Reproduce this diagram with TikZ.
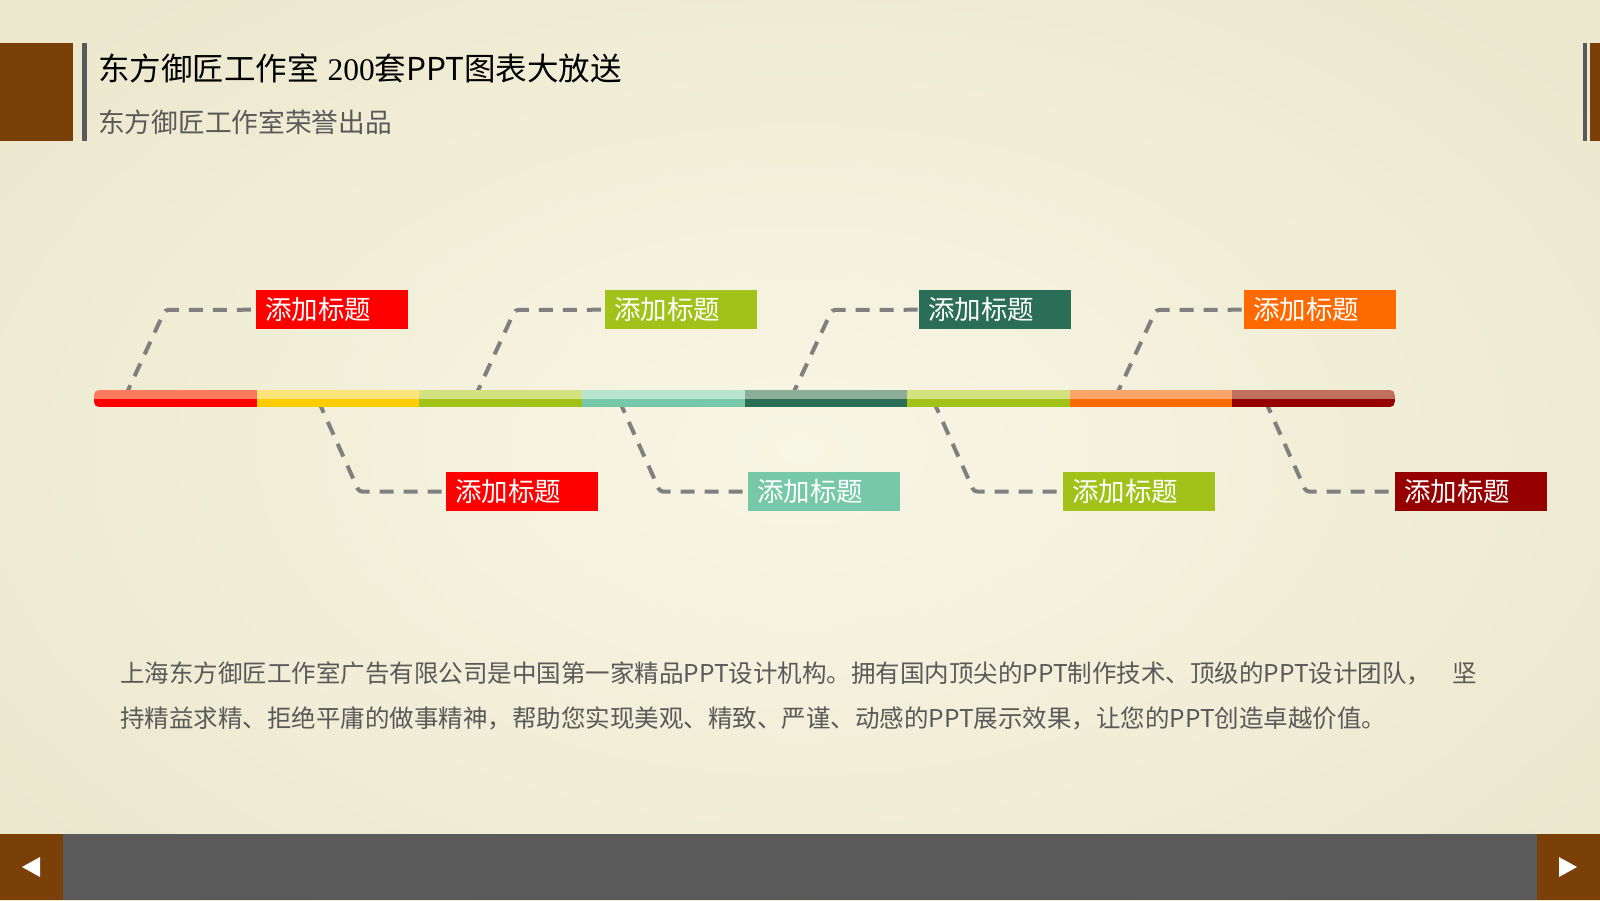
\documentclass[tikz,border=0pt]{standalone}
\usepackage{fontspec}
\setmainfont{Liberation Serif}
\newfontfamily\cjk{Noto Sans CJK SC}
\usetikzlibrary{calc}
\definecolor{bgin}{HTML}{F8F6E4}
\definecolor{bgout}{HTML}{ECE8CE}
\definecolor{brownc}{HTML}{7B3F08}
\definecolor{greyc}{HTML}{5A5A5A}
\definecolor{txtgrey}{HTML}{595959}
\definecolor{connc}{HTML}{808080}
\definecolor{redD}{HTML}{FF0000}\definecolor{redL}{HTML}{FF7A5C}
\definecolor{yelD}{HTML}{FFCC00}\definecolor{yelL}{HTML}{FCE47A}
\definecolor{grnD}{HTML}{A2C21A}\definecolor{grnL}{HTML}{D2E27E}
\definecolor{aquD}{HTML}{76C8A8}\definecolor{aquL}{HTML}{B8E4D0}
\definecolor{tealD}{HTML}{2A6E58}\definecolor{tealL}{HTML}{8CAE98}
\definecolor{orgD}{HTML}{FF6A00}\definecolor{orgL}{HTML}{FCA66C}
\definecolor{drD}{HTML}{960000}\definecolor{drL}{HTML}{C0705E}
\tikzset{
  lbl/.style={anchor=north west, inner xsep=9pt, inner ysep=0pt, text width=134pt,
    minimum height=39pt, align=left, text=white, font=\cjk\fontsize{26.5}{27}\selectfont},
  conn/.style={draw=connc, line width=4pt, dash pattern=on 14pt off 10pt, rounded corners=3pt},
  para/.style={anchor=west, inner sep=0pt, text=txtgrey, font=\cjk\fontsize{24.5}{26}\selectfont},
}
\begin{document}
\begin{tikzpicture}[x=1pt,y=-1pt]
\useasboundingbox (0,0) rectangle (1600,900);
\shade[inner color=bgin, outer color=bgout] (-200,-150) rectangle (1800,1050);
% header
\fill[brownc] (0,43) rectangle (73,141);
\fill[greyc] (82,43) rectangle (87,141);
\fill[greyc] (1583,43) rectangle (1587,141);
\fill[brownc] (1590,43) rectangle (1600,141);
\node[anchor=west, inner sep=0pt, font=\cjk\fontsize{31.5}{32}\selectfont] (title) at (98,68)
  {东方御匠工作室\hspace{9pt}{\rmfamily 200}套PPT图表大放送};
\node[anchor=west, inner sep=0pt, text=txtgrey, font=\cjk\fontsize{26.7}{27}\selectfont] (subtitle) at (98,122)
  {东方御匠工作室荣誉出品};
% connector anchor points on bar
\coordinate (b1) at (124.5,398);
\coordinate (b2) at (474.5,398);
\coordinate (b3) at (791,398);
\coordinate (b4) at (1115,398);
\coordinate (d1) at (318,400);
\coordinate (d2) at (619,400);
\coordinate (d3) at (933,400);
\coordinate (d4) at (1265,400);
% labels
\node[lbl, fill=redD] (t1) at (256,290) {添加标题};
\node[lbl, fill=grnD] (t2) at (605,290) {添加标题};
\node[lbl, fill=tealD] (t3) at (919,290) {添加标题};
\node[lbl, fill=orgD] (t4) at (1244,290) {添加标题};
\node[lbl, fill=redD] (u1) at (446,472) {添加标题};
\node[lbl, fill=aquD] (u2) at (748,472) {添加标题};
\node[lbl, fill=grnD] (u3) at (1063,472) {添加标题};
\node[lbl, fill=drD] (u4) at (1395,472) {添加标题};
% connectors
\coordinate (c1) at (165,310);
\coordinate (c2) at (515,310);
\coordinate (c3) at (832,310);
\coordinate (c4) at (1156,310);
\coordinate (e1) at (359,491.5);
\coordinate (e2) at (660,491.5);
\coordinate (e3) at (974,491.5);
\coordinate (e4) at (1306,491.5);
\draw[conn] (b1) -- (c1) -- (t1.west);
\draw[conn] (b2) -- (c2) -- (t2.west);
\draw[conn] (b3) -- (c3) -- (t3.west);
\draw[conn] (b4) -- (c4) -- (t4.west);
\draw[conn] (d1) -- (e1) -- (u1.west);
\draw[conn] (d2) -- (e2) -- (u2.west);
\draw[conn] (d3) -- (e3) -- (u3.west);
\draw[conn] (d4) -- (e4) -- (u4.west);
% bar
\begin{scope}
\clip[rounded corners=5pt] (94,390) rectangle (1395,407);
\foreach \i/\l/\d in {0/redL/redD,1/yelL/yelD,2/grnL/grnD,3/aquL/aquD,4/tealL/tealD,5/grnL/grnD,6/orgL/orgD,7/drL/drD}{
  \fill[\l] ({94+\i*162.625},390) rectangle ++(162.7,8.5);
  \fill[\d] ({94+\i*162.625},398.5) rectangle ++(162.7,8.5);
}
\end{scope}
% paragraph
\node[para] (p1) at (120,673) {\makebox[1357pt][l]{上海东方御匠工作室广告有限公司是中国第一家精品PPT设计机构。拥有国内顶尖的PPT制作技术、顶级的PPT设计团队，\hfill 坚}};
\node[para] (p2) at (120,718) {持精益求精、拒绝平庸的做事精神，帮助您实现美观、精致、严谨、动感的PPT展示效果，让您的PPT创造卓越价值。};
% footer
\fill[greyc] (0,834) rectangle (1600,900);
\fill[brownc] (0,834) rectangle (63,900);
\fill[brownc] (1537,834) rectangle (1600,900);
\fill[white] (22,867) -- (40,857) -- (40,877) -- cycle;
\fill[white] (1577,867) -- (1559,857) -- (1559,877) -- cycle;
\end{tikzpicture}
\end{document}
